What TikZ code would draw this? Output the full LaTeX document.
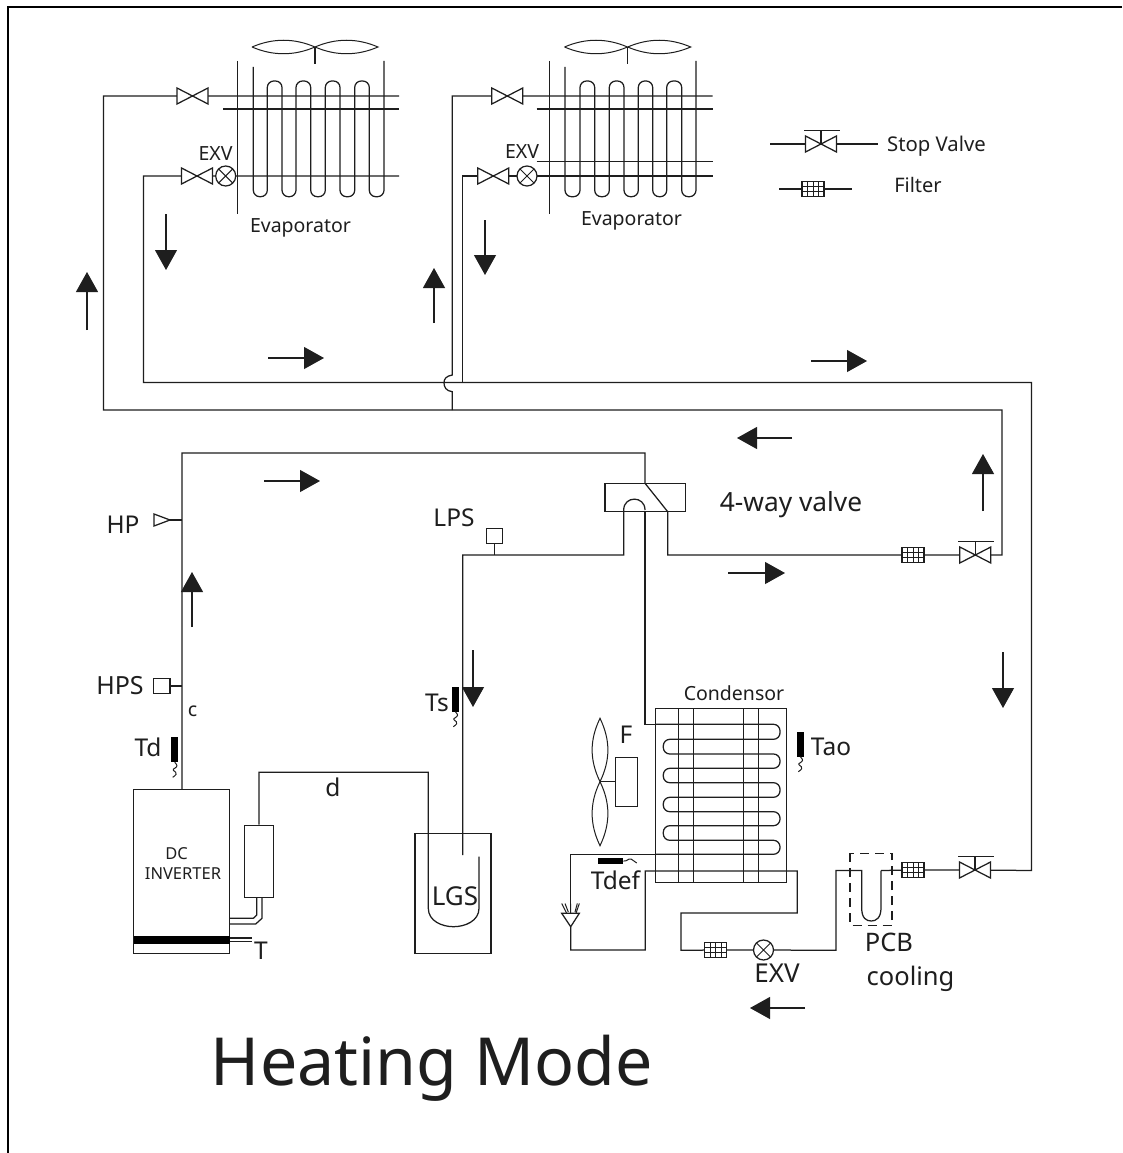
\documentclass[tikz,border=0pt]{standalone}
\usepackage{fontspec}
\setmainfont{Noto Sans}
\usetikzlibrary{arrows.meta}
\definecolor{ink}{HTML}{1E1E1E}
\newcommand{\fsz}[1]{\fontsize{#1}{#1}\selectfont}
\tikzset{
  pipe/.style={draw=ink,line width=1.25pt,line join=miter},
  coil/.style={pipe,rounded corners=6.5pt},
  thin pipe/.style={draw=ink,line width=1pt},
  symbolbox/.style={draw=ink,line width=1.25pt,fill=white},
  sensor/.style={fill=black,draw=none},
  flow/.style={draw=ink,line width=1.1pt,-{Triangle[length=20pt,width=22pt]}},
  lab/.style={inner sep=0pt,text=ink,anchor=center},
  lab19/.style={lab,font=\fsz{19.5}},
  lab24/.style={lab,font=\fsz{24.5}},
  pics/valve/.style={code={
    \draw[symbolbox] (-15.5,-8)--(15.5,8)--(15.5,-8)--(-15.5,8)--cycle;}},
  pics/stopvalve/.style={code={
    \draw[symbolbox] (-15.5,-8)--(15.5,8)--(15.5,-8)--(-15.5,8)--cycle;
    \draw[pipe] (0,0)--(0,-13.5) (-17,-13.5)--(19,-13.5);}},
  pics/exv/.style={code={
    \draw[symbolbox] (0,0) circle (10pt);
    \draw[thin pipe] (-7,-7)--(7,7) (-7,7)--(7,-7);}},
  pics/filter/.style={code={
    \draw[symbolbox] (-11,-7.3) rectangle (11,7.3);
    \draw[thin pipe] (-5.5,-7.3)--(-5.5,7.3) (0,-7.3)--(0,7.3) (5.5,-7.3)--(5.5,7.3)
      (-11,-2.4)--(11,-2.4) (-11,2.4)--(11,2.4);}},
  pics/vsensor/.style={code={
    \fill[sensor] (-3.7,0) rectangle (3.7,25);
    \draw[thin pipe] (0,25) .. controls (3,28) and (3,29) .. (0,31) .. controls (-3,32) and (-1,34) .. (1,35) .. controls (3,36) and (1,38) .. (-2,40);}},
  pics/fanblade/.style={code={
    \draw[thin pipe] (0,0) .. controls (21,-9) and (42,-9) .. (63,0) .. controls (42,9) and (21,9) .. (0,0);}},
}
\newcommand{\flowarrow}[3]{%
  \coordinate (#1a) at (#2); \coordinate (#1b) at (#3);
  \draw[flow] (#1a) -- (#1b);}
\begin{document}
\begin{tikzpicture}[x=1pt,y=-1pt]
\useasboundingbox (0,0) rectangle (1122,1153);
\fill[white] (0,0) rectangle (1122,1153);
\coordinate (frameTR) at (1122,7);
\coordinate (frameTL) at (8,7);
\coordinate (frameBL) at (8,1153);
\draw[draw=black,line width=1.8pt] (frameTR) -- (frameTL) -- (frameBL);

% named points of equipment
\coordinate (v1) at (192.5,96);
\coordinate (v2) at (197,176);
\coordinate (exv1) at (225.7,176);
\coordinate (v3) at (507.3,96);
\coordinate (v4) at (493.3,176);
\coordinate (exv2) at (527,176);
\coordinate (svA) at (975.3,555);
\coordinate (fA) at (913,555);
\coordinate (svB) at (975,870);
\coordinate (fB) at (913,870);
\coordinate (fC) at (715.5,950);
\coordinate (exv3) at (763.5,950);
\coordinate (svL) at (821,144);
\coordinate (fL) at (813,189);

% --- evaporator 1
\begin{scope}
\draw[pipe] (237.7,61)--(237.7,214);
\draw[coil] (253.3,67)--(253.3,196.7)--(267.3,196.7)--(267.3,81)--(282,81)--(282,196.7)--(296,196.7)--(296,81)--(310.7,81)--(310.7,196.7)--(325.3,196.7)--(325.3,81)--(340,81)--(340,196.7)--(354.7,196.7)--(354.7,81)--(369.3,81)--(369.3,196.7)--(384,196.7)--(384,61);
\draw[pipe] (223,109)--(399,109);
\pic at (252,47) {fanblade};
\pic at (315,47) {fanblade};
\draw[pipe] (315,47)--(315,64.5);
\coordinate (e1top) at (399,96);
\coordinate (e1low) at (399,176);
\end{scope}

% --- evaporator 2
\begin{scope}
\draw[pipe] (549.3,61)--(549.3,214);
\draw[coil] (565,67)--(565,196.7)--(580,196.7)--(580,81)--(594.7,81)--(594.7,196.7)--(609.3,196.7)--(609.3,81)--(624,81)--(624,196.7)--(638.3,196.7)--(638.3,81)--(652.7,81)--(652.7,196.7)--(666.7,196.7)--(666.7,81)--(681.7,81)--(681.7,196.7)--(696,196.7)--(696,61);
\draw[pipe] (536.7,109)--(712.7,109) (536.7,161.3)--(712.7,161.3);
\pic at (564.5,47) {fanblade};
\pic at (627.7,47) {fanblade};
\draw[pipe] (627.7,47)--(627.7,64.5);
\coordinate (e2top) at (712.7,96);
\coordinate (e2low) at (712.7,176);
\end{scope}

% --- main pipes
\draw[pipe] (e1top)--(v1)--(103.5,96)--(103.5,410)--(1002,410)--(1002,555)--(svA)--(fA)--(667.7,555)--(667.7,511.7)--(645,483.3)--(645,453)--(182,453)--(182,789.3);
\draw[pipe] (e1low)--(exv1)--(v2)--(143.5,176)--(143.5,382.5)--(1031.5,382.5)--(1031.5,870.5)--(svB)--(fB)--(881,870.5);
\draw[pipe] (e2top)--(v3)--(452.3,96)--(452.3,375) .. controls (446,376) and (444,379) .. (444,382.7) .. controls (444,387) and (446,391) .. (452.3,391.7) -- (452.3,410);
\draw[pipe] (e2low)--(exv2)--(v4)--(462.7,176)--(462.7,382.5);
\draw[pipe] (462.7,855)--(462.7,555)--(623.7,555)--(623.7,510) .. controls (623.7,495.5) and (645,495.5) .. (645,510);
\draw[pipe] (645,511.7)--(645,724.3)--(655.7,724.3);

% --- four way valve body
\node[draw=ink,line width=1.25pt,minimum width=80.3pt,minimum height=28.4pt,inner sep=0pt] (fourway) at (645.2,497.5) {};

% --- accumulator and compressor
\node[draw=ink,line width=1.25pt,minimum width=96pt,minimum height=164pt,inner sep=0pt] (comp) at (181.7,871.3) {};
\fill[black] (133.7,935.7) rectangle (229.7,944.3);
\node[draw=ink,line width=1.25pt,minimum width=29.4pt,minimum height=72pt,inner sep=0pt] (oilsep) at (259,861.3) {};
\node[draw=ink,line width=1.25pt,minimum width=76pt,minimum height=120pt,inner sep=0pt] (lgs) at (453,893.3) {};
\draw[pipe] (oilsep.north)--(259,772.3)--(428.3,772.3)--(428.3,908.3) .. controls (428.3,921) and (442,926.7) .. (453.5,926.7) .. controls (465,926.7) and (479,921) .. (479,908.3) -- (479,856.7);
\draw[pipe] (229.7,918.3)--(253.3,918.3)--(256.7,915)--(256.7,897.3);
\draw[pipe] (229.7,924)--(255.7,924)--(262,918.3)--(262,897.3);
\draw[pipe] (229.7,938)--(251.7,938) (229.7,941.7)--(251.7,941.7);

% --- pressure switches
\node[symbolbox,minimum width=16pt,minimum height=15pt,inner sep=0pt] (lpsbox) at (494.7,535.8) {};
\coordinate (lpsT) at (494.7,555);
\draw[pipe] (lpsbox.south)--(lpsT);
\node[symbolbox,minimum width=16.7pt,minimum height=15pt,inner sep=0pt] (hpsbox) at (161.7,686) {};
\coordinate (hpsT) at (182,686);
\draw[pipe] (hpsbox.east)--(hpsT);
\coordinate (hpTip) at (170,520);
\coordinate (hpT) at (182,520);
\draw[symbolbox] (154,514)--(hpTip)--(154,526)--cycle;
\draw[pipe] (hpTip)--(hpT);

% --- condenser
\node[draw=ink,line width=1.25pt,minimum width=131pt,minimum height=174pt,inner sep=0pt] (cond) at (721.2,795.3) {};
\draw[pipe] (678.3,708.3)--(678.3,882.3) (693.3,708.3)--(693.3,882.3) (743.7,708.3)--(743.7,882.3) (758.7,708.3)--(758.7,882.3);
\draw[coil] (655.7,724.3)--(780,724.3)--(780,739.3)--(663.3,739.3)--(663.3,754)--(780,754)--(780,768.3)--(663.3,768.3)--(663.3,782.7)--(780,782.7)--(780,797.3)--(663.3,797.3)--(663.3,811.7)--(780,811.7)--(780,825.7)--(663.3,825.7)--(663.3,840.3)--(780,840.3)--(780,854.3)--(655.7,854.3);
\draw[pipe] (655.7,854.3)--(570.7,854.3)--(570.7,913);
\draw[pipe] (570.7,926.7)--(570.7,950)--(645.3,950)--(645.3,871)--(797.3,871)--(797.3,913)--(681,913)--(681,950.3)--(fC)--(exv3)--(836,950.3)--(836,870.5)--(861.7,870.5)--(861.7,908) .. controls (861.7,918) and (866,921) .. (871.3,921) .. controls (876,921) and (881,918) .. (881,908) -- (881,870.5);
\draw[symbolbox] (561.7,913.3)--(579.3,913.3)--(570.7,926.7)--cycle;
\draw[thin pipe] (561.7,903.5)--(566.7,913.3) (565,903.5)--(568.3,912) (570.7,903.5)--(570.7,913.3) (575,912)--(577.3,903.5) (579.3,903.5)--(576,913.3);
\draw[draw=ink,line width=1.25pt,dash pattern=on 9pt off 6pt] (850,853.3) rectangle (892,925.7);

% --- condenser fan
\draw[thin pipe] (600,781.7) .. controls (589.5,760) and (589.5,740) .. (600,718.3) .. controls (610.5,740) and (610.5,760) .. (600,781.7) .. controls (589.5,803) and (589.5,824) .. (600,845.7) .. controls (610.5,824) and (610.5,803) .. (600,781.7);
\node[draw=ink,line width=1.25pt,minimum width=21.6pt,minimum height=49.4pt,inner sep=0pt] (motor) at (626.5,782) {};
\coordinate (fanhub) at (600,781.7);
\draw[pipe] (fanhub)--(motor.west|-fanhub);

% --- sensors
\pic at (174.7,737.3) {vsensor};
\pic at (455.3,686.7) {vsensor};
\pic at (800.3,731.7) {vsensor};
\fill[sensor] (598.3,858.3) rectangle (623.3,864.3);
\draw[thin pipe] (623.3,861) .. controls (627,862) and (628,858) .. (631,859) .. controls (633,860) and (635,862) .. (636.7,863);

% --- symbols on the pipes
\pic at (v1) {valve};
\pic at (v2) {valve};
\pic at (exv1) {exv};
\pic at (v3) {valve};
\pic at (v4) {valve};
\pic at (exv2) {exv};
\pic at (svA) {stopvalve};
\pic at (fA) {filter};
\pic at (svB) {stopvalve};
\pic at (fB) {filter};
\pic at (fC) {filter};
\pic at (exv3) {exv};

% --- legend
\coordinate (lgA) at (770,144);
\coordinate (lgB) at (878.3,144);
\coordinate (lgC) at (779.3,189);
\coordinate (lgD) at (852,189);
\draw[pipe] (lgA)--(lgB);
\draw[pipe] (lgC)--(lgD);
\pic at (svL) {stopvalve};
\pic at (fL) {filter};

% --- flow arrows
\flowarrow{fa}{166,214}{166,270}
\flowarrow{fb}{87,330}{87,272}
\flowarrow{fc}{434,323}{434,268}
\flowarrow{fd}{485,220}{485,275}
\flowarrow{fe}{268,358}{324,358}
\flowarrow{ff}{811,361}{867,361}
\flowarrow{fg}{792,438}{737,438}
\flowarrow{fh}{983,511}{983,454}
\flowarrow{fi}{264,481}{320,481}
\flowarrow{fj}{192,627}{192,572}
\flowarrow{fk}{728,573}{785,573}
\flowarrow{fl}{473,650}{473,707}
\flowarrow{fm}{1003,652}{1003,708}
\flowarrow{fn}{805,1008}{750,1008}

% --- labels
\node[lab19] (tExv1) at (215.5,154) {EXV};
\node[lab19] (tExv2) at (522,152) {EXV};
\node[lab19] (tEva1) at (300.5,228) {Evaporator};
\node[lab19] (tEva2) at (631.5,220.5) {Evaporator};
\node[lab,font=\fsz{20.3}] (tStop) at (936.5,146) {Stop Valve};
\node[lab,font=\fsz{20}] (tFilter) at (918,184.5) {Filter};
\node[lab19] (tCond) at (734,693.5) {Condensor};
\node[lab,font=\fsz{26.3}] (tFour) at (791,505) {4-way valve};
\node[lab24] (tLps) at (454,518) {LPS};
\node[lab24] (tHp) at (123,524.5) {HP};
\node[lab,font=\fsz{25}] (tHps) at (120,685.5) {HPS};
\node[lab19] (tc) at (192.5,711.5) {c};
\node[lab24] (tTd) at (148,747.5) {Td};
\node[lab24] (tTs) at (437,702.5) {Ts};
\node[lab24] (td) at (333,787) {d};
\node[lab,font=\fsz{16.5}] (tDc) at (176.5,853.5) {DC};
\node[lab,font=\fsz{16.5}] (tInv) at (183,873.5) {INVERTER};
\node[lab24] (tT) at (261,950.5) {T};
\node[lab,font=\fsz{26}] (tLgs) at (455,896.5) {LGS};
\node[lab24] (tF) at (626,734.5) {F};
\node[lab24] (tTao) at (831,746.5) {Tao};
\node[lab24] (tTdef) at (615.5,880.5) {Tdef};
\node[lab,font=\fsz{26}] (tExv3) at (777,973.5) {EXV};
\node[lab,font=\fsz{25.5}] (tPcb) at (889,942.5) {PCB};
\node[lab,font=\fsz{25.5}] (tCool) at (910.5,978.5) {cooling};
\node[lab,font=\fsz{66.3}] (tMode) at (432,1068) {Heating Mode};
\end{tikzpicture}
\end{document}
